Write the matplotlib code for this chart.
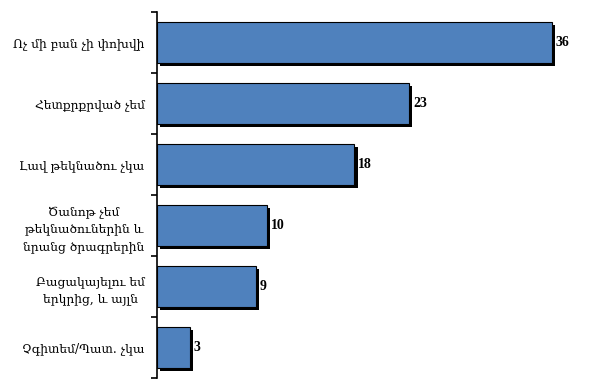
import matplotlib.pyplot as plt
import matplotlib.patheffects as pe
import numpy as np

# categories from top to bottom
labels = [
    'Ոչ մի բան չի փոխվի',
    'Հետքրքրված չեմ',
    'Լավ թեկնածու չկա',
    'Ծանոթ չեմ\nթեկնածուներին և\nնրանց ծրագրերին',
    'Բացակայելու եմ\nերկրից, և այլն',
    'Չգիտեմ/Պատ. չկա',
]
values = [36, 23, 18, 10, 9, 3]

fig = plt.figure(figsize=(6.06, 3.91), dpi=100)
ax = fig.add_axes([157 / 606, 1 - 378 / 391, 433 / 606, 366 / 391])

pos = np.arange(len(values))
bars = ax.barh(pos, values, height=0.67, color='#4F81BD', edgecolor='black', linewidth=0.8)
for b in bars:
    b.set_path_effects([pe.SimplePatchShadow(offset=(2.4, -2.4), shadow_rgbFace='black', alpha=1.0), pe.Normal()])

for p, v in zip(pos, values):
    ax.text(v + 0.35, p, str(v), va='center', ha='left', fontsize=10,
            fontweight='bold', family='Liberation Serif')

ax.set_xlim(0, 39.5)
ax.set_ylim(len(values) - 0.5, -0.5)

ax.set_yticks(pos)
ax.set_yticklabels(labels, family='DejaVu Serif', fontsize=8.8,
                   multialignment='center', linespacing=1.45)
ax.tick_params(axis='y', which='major', length=0, pad=9)
ax.set_yticks(np.arange(-0.5, len(values)), minor=True)
ax.tick_params(axis='y', which='minor', length=4, width=1.2, direction='out')
ax.set_xticks([])

for s in ['top', 'right', 'bottom']:
    ax.spines[s].set_visible(False)
ax.spines['left'].set_linewidth(1.2)

fig.savefig('out.png', dpi=100)
